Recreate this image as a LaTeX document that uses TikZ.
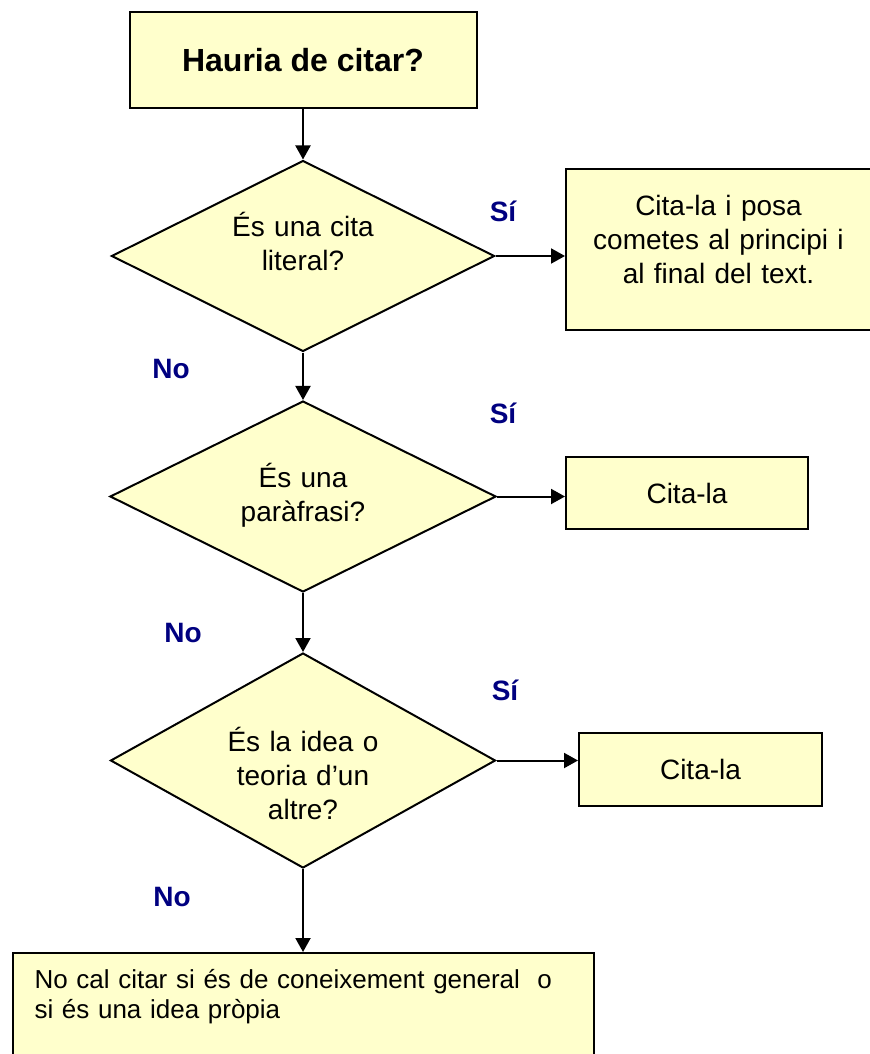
\documentclass[tikz,border=0pt]{standalone}
\usepackage{fontspec}
\setmainfont{Liberation Sans}
\usetikzlibrary{shapes.geometric}
\usetikzlibrary{arrows.meta}
\usetikzlibrary{graphs}
\definecolor{groc}{HTML}{FFFFCC}
\definecolor{blau}{HTML}{000080}
\tikzset{
  caixa/.style={draw, fill=groc, rectangle, inner sep=0pt, font=\fontsize{14}{17}\selectfont},
  pregunta/.style={draw, fill=groc, diamond, aspect=2, inner sep=0pt, text width=90pt, align=center, text height=10pt, font=\fontsize{14}{17}\selectfont},
  resposta/.style={text=blau, inner sep=0pt, font=\fontsize{14}{17}\selectfont\bfseries}
}

\begin{document}
\begin{tikzpicture}[x=0.5pt, y=-0.5pt, line width=1pt, >={Triangle[length=7pt,width=7.5pt]}]
\useasboundingbox (0,0) rectangle (869,1054);
\node (q) [caixa, minimum width=173.5pt, minimum height=48pt, font=\fontsize{16}{19}\selectfont\bfseries] at (303,60) {Hauria de citar?};
\node (d1) [pregunta, text depth=30pt, minimum width=191.5pt, minimum height=95.5pt] at (303,256) {És una cita\\literal?};
\node (d2) [pregunta, text depth=19pt, minimum width=193pt, minimum height=95.5pt] at (303,496.5) {És una\\paràfrasi?};
\node (d3) [pregunta, text depth=19pt, minimum width=192.5pt, minimum height=107.5pt] at (303,760.5) {És la idea o\\teoria d’un\\altre?};
\node (b2) [caixa, text width=140pt, align=center, text height=10pt, text depth=44.5pt, minimum width=152.5pt, minimum height=80.5pt] at (718.5,249.5) {Cita-la i posa\\cometes al principi i\\al final del text.};
\node (b3) [caixa, minimum width=121pt, minimum height=36pt] at (687,493) {Cita-la};
\node (b4) [caixa, minimum width=121.5pt, minimum height=36.5pt] at (700.5,769.5) {Cita-la};
\node (e) [caixa, text width=268.5pt, align=left, text height=10pt, text depth=43.5pt, minimum width=290.5pt, minimum height=68.5pt, font=\fontsize{13}{15}\selectfont] at (303,1021.5) {No cal citar si és de coneixement general~ o\\si és una idea pròpia};
\node (si1) [resposta] at (503,211) {Sí};
\node (si2) [resposta] at (503,413) {Sí};
\node (si3) [resposta] at (505,690) {Sí};
\node (no1) [resposta] at (171,369) {No};
\node (no2) [resposta] at (183,633) {No};
\node (no3) [resposta] at (172,897) {No};
\graph { (q) -> (d1) -> (d2) -> (d3) -> (e) };
\draw [->] (d1.east) -- (d1.east -| b2.west);
\draw [->] (d2.east) -- (d2.east -| b3.west);
\draw [->] (d3.east) -- (d3.east -| b4.west);
\end{tikzpicture}
\end{document}
